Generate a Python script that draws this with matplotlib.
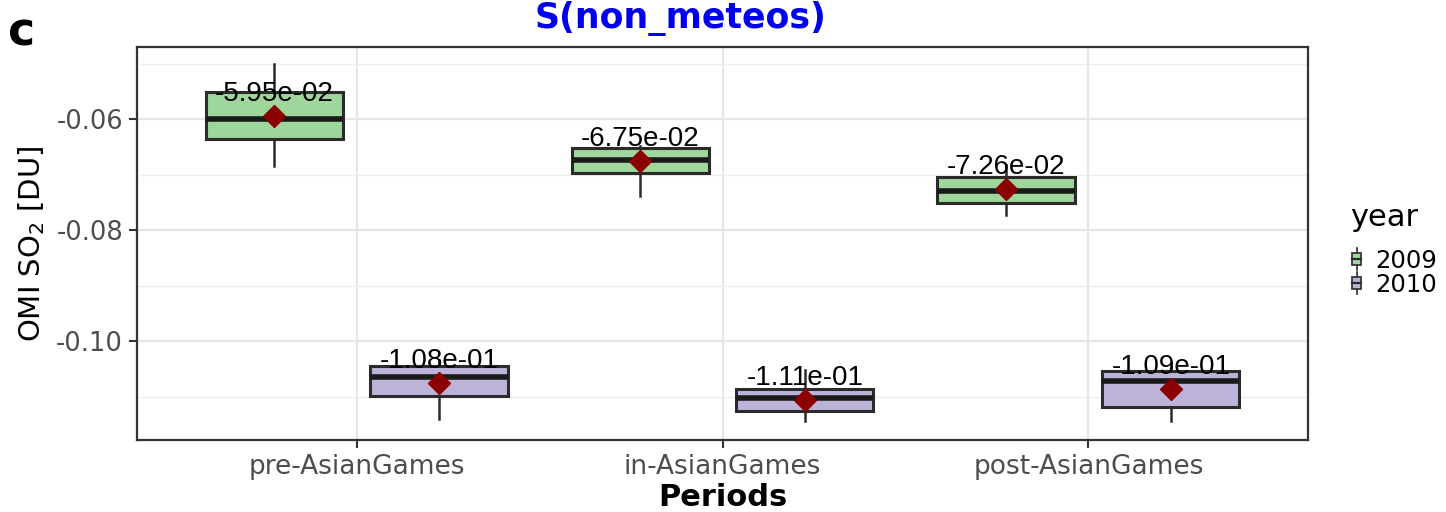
import numpy as np
import matplotlib
matplotlib.use('Agg')
import matplotlib.pyplot as plt
from matplotlib.legend_handler import HandlerBase
from matplotlib.patches import Rectangle
from matplotlib.lines import Line2D

periods = ['pre-AsianGames', 'in-AsianGames', 'post-AsianGames']
years = ['2009', '2010']

# box stats (DU)
lo_2009 = [-0.0685, -0.0739, -0.0773]
q1_2009 = [-0.0636, -0.0697, -0.0751]
med_2009 = [-0.0600, -0.0673, -0.0729]
q3_2009 = [-0.0551, -0.0651, -0.0704]
hi_2009 = [-0.0501, -0.0648, -0.0683]
mean_2009 = [-0.0595, -0.0675, -0.0726]

lo_2010 = [-0.1141, -0.1144, -0.1145]
q1_2010 = [-0.1099, -0.1127, -0.1118]
med_2010 = [-0.1064, -0.1103, -0.1072]
q3_2010 = [-0.1045, -0.1087, -0.1054]
hi_2010 = [-0.1035, -0.1052, -0.1045]
mean_2010 = [-0.1076, -0.1106, -0.1086]

fills = {'2009': '#9fd69b', '2010': '#bdb3d9'}
edge = '#2b2b2b'

fig = plt.figure(figsize=(14.46, 5.12), dpi=100)
ax = fig.add_axes([137 / 1446, 72 / 512, 1171 / 1446, 393 / 512])

series = {
    '2009': (lo_2009, q1_2009, med_2009, q3_2009, hi_2009, mean_2009, -0.225),
    '2010': (lo_2010, q1_2010, med_2010, q3_2010, hi_2010, mean_2010, 0.225),
}

x = np.arange(1, len(periods) + 1)
for yr, (lo, q1, med, q3, hi, mn, off) in series.items():
    stats = []
    for i in range(len(periods)):
        stats.append({'whislo': lo[i], 'q1': q1[i], 'med': med[i], 'q3': q3[i],
                      'whishi': hi[i], 'fliers': []})
    ax.bxp(stats, positions=x + off, widths=0.375, patch_artist=True,
           showcaps=False, showfliers=False,
           boxprops=dict(facecolor=fills[yr], edgecolor=edge, linewidth=2.2),
           whiskerprops=dict(color=edge, linewidth=1.8),
           medianprops=dict(color='#1a1a1a', linewidth=4.0, solid_capstyle='butt'),
           zorder=3)
    ax.plot(x + off, mn, linestyle='none', marker='D', markersize=11,
            color='#8b0000', zorder=5)
    for xi, m in zip(x + off, mn):
        ax.annotate(f'{m:.2e}', (xi, m), xytext=(0, 15), textcoords='offset pixels',
                    ha='center', va='baseline', fontsize=20,
                    family='Liberation Sans', color='black', zorder=6)

ax.set_xlim(0.4, 3.6)
ax.set_ylim(-0.11784, -0.04697)
ax.set_xticks(x)
ax.set_xticklabels(periods)
ax.set_yticks([-0.06, -0.08, -0.10])
ax.set_yticklabels(['-0.06', '-0.08', '-0.10'])
ax.set_yticks([-0.05, -0.07, -0.09, -0.11], minor=True)
ax.set_xticks([], minor=True)
ax.tick_params(axis='both', which='major', labelsize=19, labelcolor='#4d4d4d',
               color='#333333', length=6, width=1.5, pad=4)
ax.tick_params(axis='y', which='major', labelsize=18.5)
ax.tick_params(axis='y', which='minor', length=0)
ax.grid(True, which='major', color='#e6e6e6', linewidth=1.6, zorder=0)
ax.grid(True, which='minor', axis='y', color='#eeeeee', linewidth=1.0, zorder=0)
ax.set_axisbelow(True)
for s in ax.spines.values():
    s.set_color('#333333')
    s.set_linewidth(1.6)

ax.set_ylabel('OMI SO$_2$ [DU]', fontsize=21, labelpad=7)
ax.set_xlabel('Periods', fontsize=22, fontweight='bold', labelpad=2)

fig.text(680 / 1446, 1 - 18 / 512, 'S(non_meteos)', color='#0000ee', fontsize=25,
         fontweight='bold', ha='center', va='center')
fig.text(8 / 1446, 1 - 33 / 512, 'c', fontsize=33, fontweight='bold',
         ha='left', va='center')


class BoxKey(HandlerBase):
    def create_artists(self, legend, orig_handle, xdescent, ydescent, width,
                       height, fontsize, trans):
        cx = width / 2 - xdescent
        bw = width * 0.7
        line = Line2D([cx, cx], [-ydescent - 2, height + 2], color=edge, lw=1.2)
        rect = Rectangle((cx - bw / 2, height * 0.15), bw, height * 0.7,
                         facecolor=orig_handle.get_facecolor(), edgecolor=edge, lw=1.2)
        mid = Line2D([cx - bw / 2, cx + bw / 2], [height * 0.5] * 2, color=edge, lw=1.6)
        for a in (line, rect, mid):
            a.set_transform(trans)
        return [line, rect, mid]


handles = [Rectangle((0, 0), 1, 1, facecolor=fills[y]) for y in years]
leg = fig.legend(handles, years, handler_map={Rectangle: BoxKey()},
                 loc='upper left', bbox_to_anchor=(1333 / 1446, 1 - 186 / 512),
                 frameon=False, fontsize=17.5, title='year', title_fontsize=22,
                 handlelength=0.55, handleheight=0.7, handletextpad=0.5,
                 labelspacing=0.0, borderpad=0.2)
leg._legend_box.align = 'left'
leg._legend_box.sep = 12

fig.savefig('out.png', dpi=100)
